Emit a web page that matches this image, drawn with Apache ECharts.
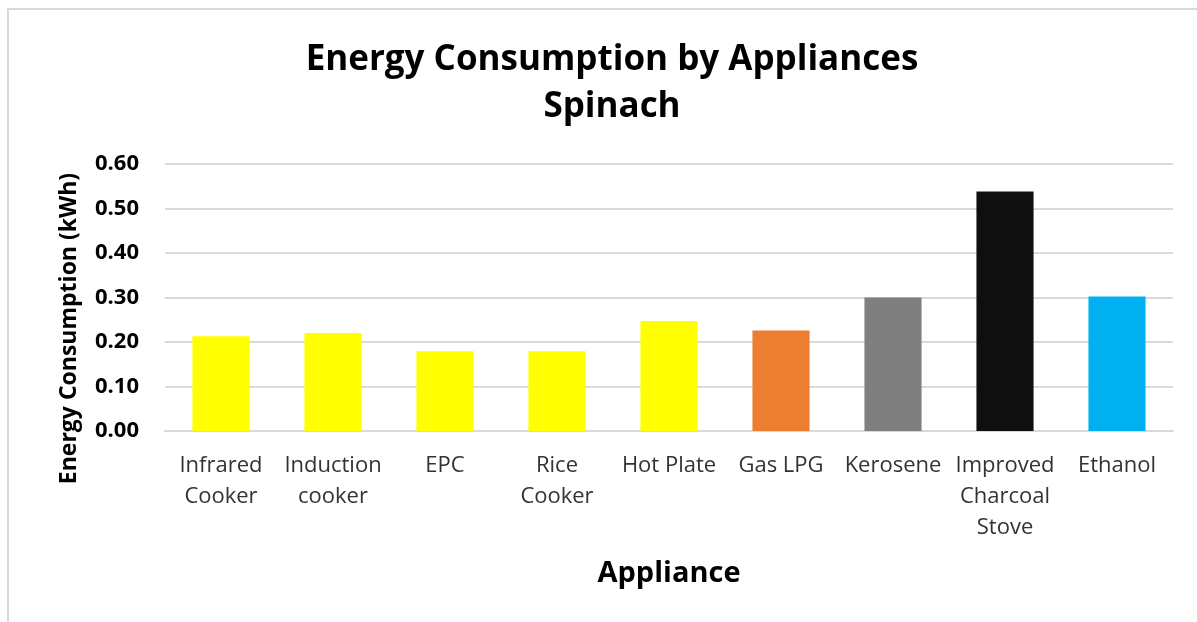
<!DOCTYPE html>
<html>
<head>
<meta charset="utf-8">
<script src="https://cdn.jsdelivr.net/npm/echarts@6/dist/echarts.min.js"></script>
<style>
  html, body { margin: 0; padding: 0; background: #fff; }
  #chart { width: 1197px; height: 622px; }
</style>
</head>
<body>
<div id="chart"></div>
<script>
// appliances on the x axis
var appliances = ['Infrared\nCooker', 'Induction\ncooker', 'EPC', 'Rice\nCooker', 'Hot Plate',
                  'Gas LPG', 'Kerosene', 'Improved\nCharcoal\nStove', 'Ethanol'];
// energy consumption, kWh
var consumption = [0.213, 0.220, 0.179, 0.179, 0.247, 0.226, 0.300, 0.538, 0.302];
// bar colours by fuel type
var barColors = ['#FFFF00', '#FFFF00', '#FFFF00', '#FFFF00', '#FFFF00',
                 '#ED7D31', '#7F7F7F', '#0F0F0F', '#00B0F0'];

var font = '"Open Sans", sans-serif';

var chart = echarts.init(document.getElementById('chart'));

chart.setOption({
    animation: false,
    backgroundColor: '#fff',
    textStyle: { fontFamily: font },
    title: {
        text: 'Energy Consumption by Appliances\nSpinach',
        left: 607,
        textAlign: 'center',
        top: 32,
        textStyle: {
            fontFamily: font,
            fontSize: 35,
            fontWeight: 'bold',
            color: '#000',
            lineHeight: 47
        }
    },
    // chart frame, only top and left edges are in view
    graphic: [{
        type: 'rect',
        shape: { x: 8, y: 9, width: 1400, height: 800 },
        style: { fill: 'none', stroke: '#d9d9d9', lineWidth: 2 },
        silent: true
    }],
    grid: { left: 165, right: 24, top: 164, bottom: 191 },
    xAxis: {
        type: 'category',
        data: appliances,
        name: 'Appliance',
        nameLocation: 'middle',
        nameGap: 128,
        nameTextStyle: { fontFamily: font, fontSize: 29, fontWeight: 'bold', color: '#000' },
        axisLine: { lineStyle: { color: '#d9d9d9', width: 2 } },
        axisTick: { show: false },
        axisLabel: {
            interval: 0,
            margin: 19,
            fontFamily: font,
            fontSize: 22,
            lineHeight: 31,
            color: '#333'
        }
    },
    yAxis: {
        type: 'value',
        min: 0,
        max: 0.6,
        interval: 0.1,
        name: 'Energy Consumption (kWh)',
        nameLocation: 'middle',
        nameGap: 84,
        nameTextStyle: {
            fontFamily: font,
            fontSize: 23,
            fontWeight: 'bold',
            color: '#000',
            // pushes the title down so it centres on plot + labels like the original
            padding: [0, 62, 0, 0]
        },
        axisLine: { show: false },
        axisTick: { show: false },
        splitLine: { lineStyle: { color: '#d9d9d9', width: 2 } },
        axisLabel: {
            margin: 26,
            fontFamily: font,
            fontSize: 22,
            fontWeight: 'bold',
            color: '#000',
            formatter: function (v) { return v.toFixed(2); }
        }
    },
    series: [{
        type: 'bar',
        barWidth: '51%',
        data: consumption.map(function (v, i) {
            return { value: v, itemStyle: { color: barColors[i] } };
        })
    }]
});
</script>
</body>
</html>
